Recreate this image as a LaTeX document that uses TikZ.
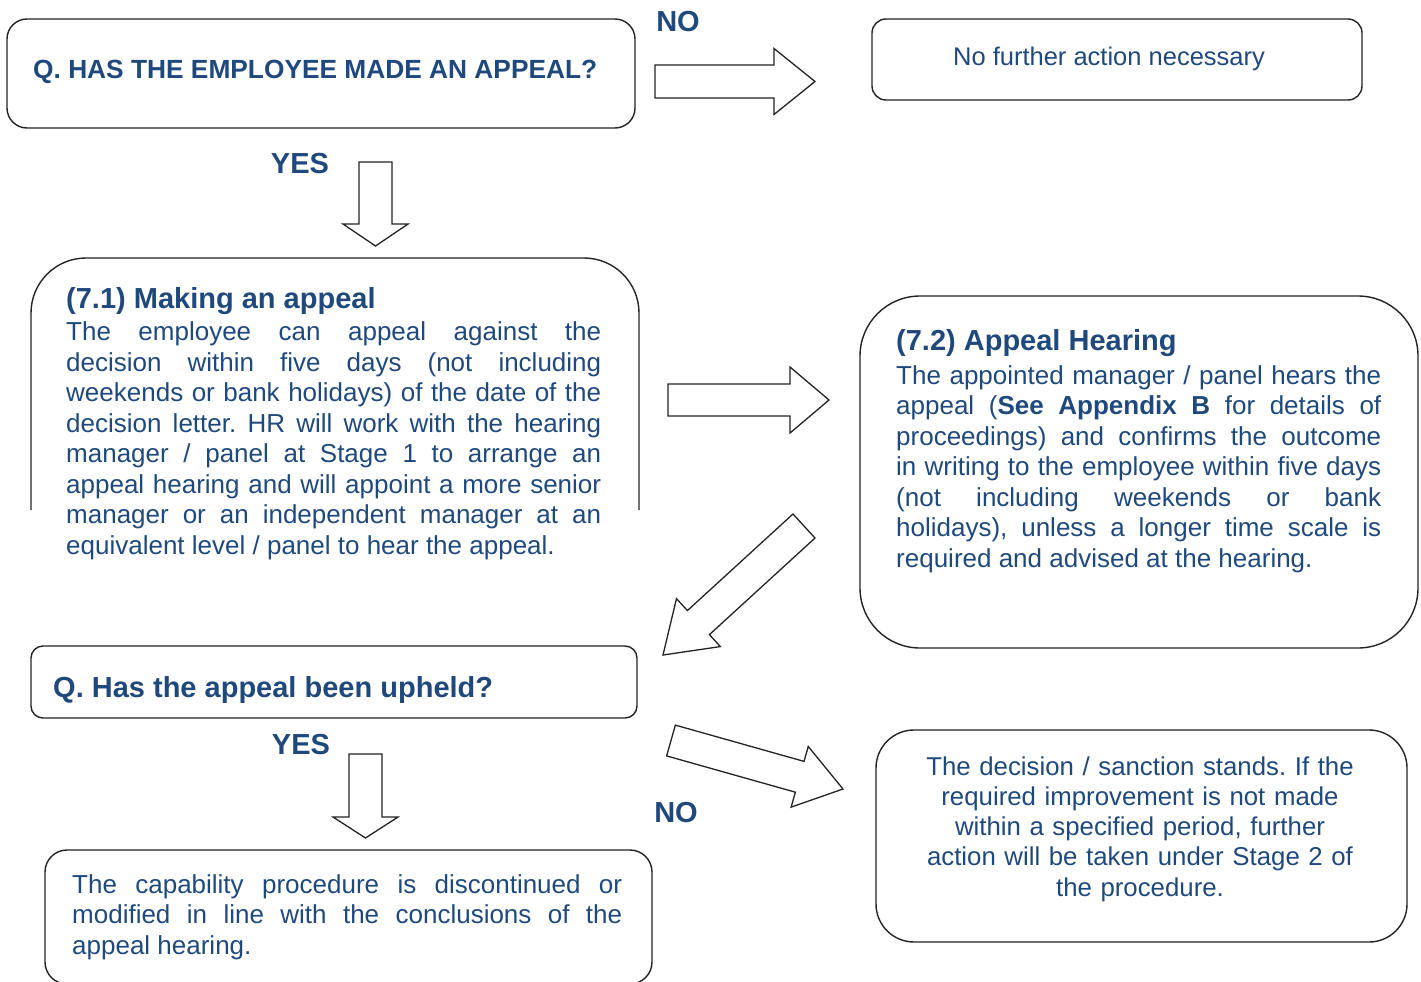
\documentclass[tikz,border=0pt]{standalone}
\usepackage{fontspec}
\setmainfont{Liberation Sans}
\usetikzlibrary{calc}
\definecolor{tblue}{RGB}{31,73,125}
\definecolor{lgray}{RGB}{35,35,35}
\frenchspacing

\tikzset{
  boxline/.style={draw=lgray,line width=1.4pt},
  blockline/.style={draw=lgray,line width=1.3pt,fill=white,line join=miter},
  headtxt/.style={text=tblue,font=\bfseries\fontsize{29}{33}\selectfont,inner sep=0pt},
  bodytxt/.style={text=tblue,font=\fontsize{26}{30.5}\selectfont,inner sep=0pt,align=justify},
  yesno/.style={text=tblue,font=\bfseries\fontsize{29}{33}\selectfont,inner sep=0pt,anchor=base}
}

% hollow block arrow: tail, tip, half shaft, half head, head length
\newcommand\blockarrow[5]{%
  \coordinate (bahead) at ($(#2)!#5!(#1)$);
  \draw[blockline] ($(#1)!#3!90:(#2)$) -- ($(bahead)!#3!90:(#2)$) -- ($(bahead)!#4!90:(#2)$)
    -- (#2) -- ($(bahead)!#4!-90:(#2)$) -- ($(bahead)!#3!-90:(#2)$) -- ($(#1)!#3!-90:(#2)$) -- cycle;
}

\begin{document}
\begin{tikzpicture}[x=1pt,y=-1pt]
\useasboundingbox (0,0) rectangle (1421,982);
\clip (0,0) rectangle (1421,982);

% boxes
\node[boxline,rounded corners=20pt,minimum width=628pt,minimum height=109pt] (askbox) at (321,73.5) {};
\node[boxline,rounded corners=14pt,minimum width=490pt,minimum height=81pt] (nfabox) at (1117,59.5) {};
\draw[boxline,rounded corners=55pt] (31,510) -- (31,258) -- (639,258) -- (639,510);
\node[boxline,rounded corners=60pt,minimum width=558pt,minimum height=352pt] (hearbox) at (1139,472) {};
\node[boxline,rounded corners=12pt,minimum width=606pt,minimum height=72pt] (upbox) at (334,682) {};
\node[boxline,rounded corners=22pt,minimum width=607pt,minimum height=134pt] (yesbox) at (348.5,917) {};
\node[boxline,rounded corners=38pt,minimum width=531pt,minimum height=212pt] (standbox) at (1141.5,836) {};

% texts
\node[headtxt,anchor=base west,font=\bfseries\fontsize{26.3}{30}\selectfont] (askq) at (33,78.5) {Q. HAS THE EMPLOYEE MADE AN APPEAL?};
\node[bodytxt,anchor=base,font=\fontsize{25.5}{30}\selectfont] (nfa) at (1109,66) {No further action necessary};

\node[headtxt,anchor=base west] (appealhead) at (66,308.5) {(7.1) Making an appeal};
\node[bodytxt,anchor=base west,text width=535pt] (appealbody) at (66,340.5) {The employee can appeal against the\linebreak
decision within five days (not including\linebreak
weekends or bank holidays) of the date of the\linebreak
decision letter. HR will work with the hearing\linebreak
manager / panel at Stage 1 to arrange an\linebreak
appeal hearing and will appoint a more senior\linebreak
manager or an independent manager at an\linebreak
equivalent level / panel to hear the appeal.};

\node[headtxt,anchor=base west] (hearhead) at (896,350) {(7.2) Appeal Hearing};
\node[bodytxt,anchor=base west,text width=485pt] (hearbody) at (896,384) {The appointed manager / panel hears the\linebreak
appeal (\textbf{See Appendix B} for details of\linebreak
proceedings) and confirms the outcome\linebreak
in writing to the employee within five days\linebreak
(not including weekends or bank\linebreak
holidays), unless a longer time scale is\linebreak
required and advised at the hearing.};

\node[headtxt,anchor=base west] (upq) at (53,697) {Q. Has the appeal been upheld?};
\node[bodytxt,anchor=base west,text width=550pt] (yesbody) at (72,893) {The capability procedure is discontinued or\linebreak
modified in line with the conclusions of the\linebreak
appeal hearing.};
\node[bodytxt,anchor=base,text width=480pt,align=center,font=\fontsize{25.8}{30.3}\selectfont] (standbody) at (1140,775) {The decision / sanction stands. If the\\
required improvement is not made\\
within a specified period, further\\
action will be taken under Stage 2 of\\
the procedure.};

% yes / no labels
\node[yesno] (no1) at (678,32) {NO};
\node[yesno] (yes1) at (300,173) {YES};
\node[yesno] (yes2) at (301,754) {YES};
\node[yesno] (no2) at (676,822) {NO};

% arrows
\coordinate (notail1) at (655,81.5);   \coordinate (notip1) at (815,81.5);
\coordinate (yestail1) at (375.5,162); \coordinate (yestip1) at (375.5,246);
\coordinate (heartail) at (668,400);   \coordinate (heartip) at (829,400);
\coordinate (uptail) at (804,526);     \coordinate (uptip) at (663,655);
\coordinate (notail2) at (671,740.5);  \coordinate (notip2) at (843,789);
\coordinate (yestail2) at (365.5,754); \coordinate (yestip2) at (365.5,838);

\foreach \s/\e/\w/\hw/\hl in {notail1/notip1/16.5pt/33pt/41pt,
  yestail1/yestip1/16.5pt/32.5pt/22pt,
  heartail/heartip/16pt/33pt/39pt,
  uptail/uptip/16.3pt/32.5pt/48pt,
  notail2/notip2/16pt/31.5pt/45pt,
  yestail2/yestip2/16.5pt/32.5pt/21pt}
{
  \blockarrow{\s}{\e}{\w}{\hw}{\hl}
}

\end{tikzpicture}
\end{document}
